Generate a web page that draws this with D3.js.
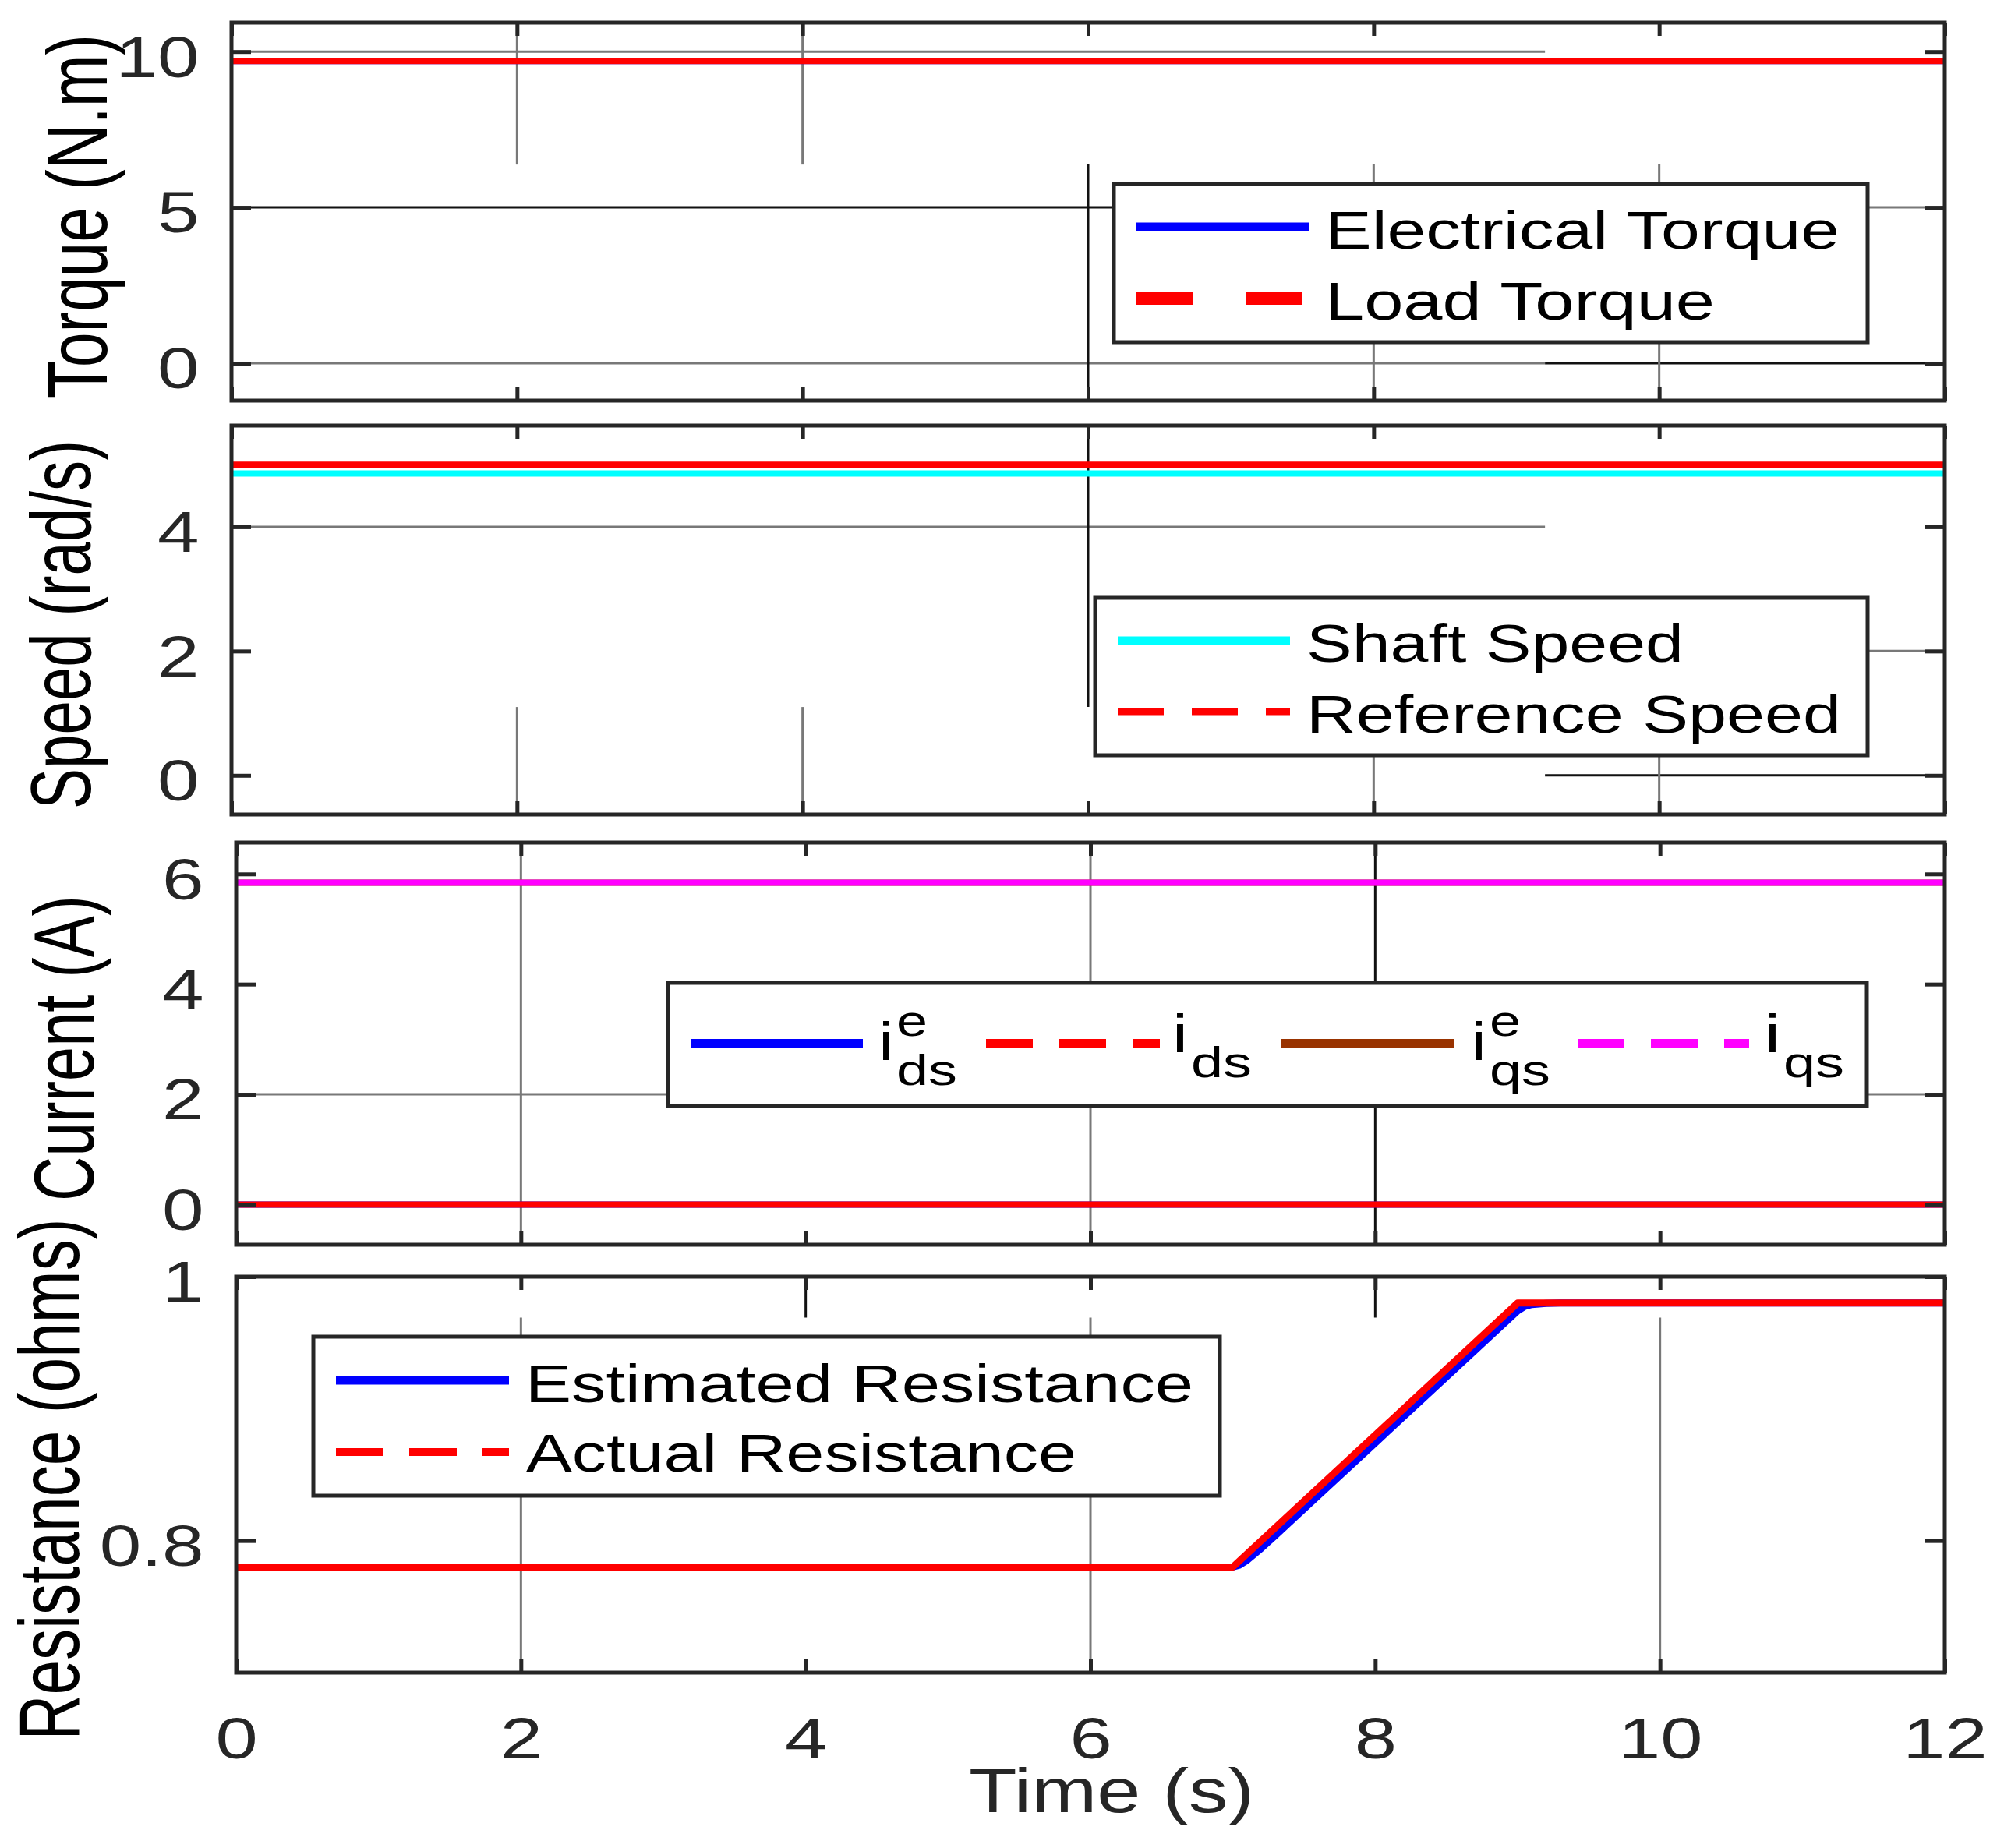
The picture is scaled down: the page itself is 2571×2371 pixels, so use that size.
<!DOCTYPE html>
<html>
<head>
<meta charset="utf-8">
<script src="https://cdn.jsdelivr.net/npm/d3@7"></script>
<style>
  body { margin: 0; background: #fff; }
</style>
</head>
<body>
<div class="canvas"></div>
<script>
const width = 2571;
const height = 2371;

// time axis (s)
const timeTicks = [0, 2, 4, 6, 8, 10, 12];
const timeSpan = [0, 12];

// torque (N.m)
const torqueTicks = [0, 5, 10];
const torqueDomain = [-1.2, 10.93];
const electricalTorque = [9.7, 9.7];
const loadTorque = [9.7, 9.7];

// speed (rad/s)
const speedTicks = [0, 2, 4];
const speedDomain = [-0.63, 5.63];
const shaftSpeed = [4.86, 4.86];
const referenceSpeed = [5, 5];

// currents (A)
const currentTicks = [0, 2, 4, 6];
const currentDomain = [-0.73, 6.57];
const idsE = [0, 0];
const ids = [0, 0];
const iqsE = [5.84, 5.84];
const iqs = [5.84, 5.84];

// stator resistance (ohms)
const resistanceTicks = [0.8, 1];
const resistanceDomain = [0.7, 1.0];
const actualTime = [0, 7, 9, 12];
const actualResistance = [0.78, 0.78, 0.98, 0.98];
const estimatedTime = [0, 7, 7.05, 7.1, 7.2, 7.3, 7.5, 8, 8.5, 9, 9.05, 9.1, 9.2, 9.3, 12];
const estimatedResistance = [0.78, 0.78, 0.7816, 0.7851, 0.7942, 0.804, 0.824, 0.874, 0.924, 0.974, 0.9774, 0.9789, 0.9798, 0.98, 0.98];

const font = '"Liberation Sans", Arial, Helvetica, sans-serif';
const axisColor = '#262626';
const gridTone = {g: '#787878', k: '#111111'};
const split = 9.2; // where the broken grid pieces change

// grid pieces: [dir, at, from, to, tone]
const panels = [
  {
    left: 297, right: 2495, top: 29, bottom: 514,
    yDomain: torqueDomain, yTicks: torqueTicks,
    label: 'Torque (N.m)', labelX: 137, labelLength: 467,
    lineWidth: 8,
    series: [
      {t: timeSpan, v: electricalTorque, color: '#0000ff'},
      {t: timeSpan, v: loadTorque, color: '#ff0000'}
    ],
    grid: [
      ['h', 10, 0, split, 'g'], ['h', 5, 0, split, 'k'], ['h', 5, split, 12, 'g'],
      ['h', 0, 0, split, 'g'], ['h', 0, split, 12, 'k'],
      ['v', 2, torqueDomain[1], 6.375, 'g'], ['v', 4, torqueDomain[1], 6.375, 'g'],
      ['v', 6, 6.375, torqueDomain[0], 'k'], ['v', 8, 6.375, torqueDomain[0], 'g'],
      ['v', 10, 6.375, torqueDomain[0], 'g']
    ]
  },
  {
    left: 297, right: 2495, top: 546, bottom: 1045,
    yDomain: speedDomain, yTicks: speedTicks,
    label: 'Speed (rad/s)', labelX: 116, labelLength: 473,
    lineWidth: 8,
    series: [
      {t: timeSpan, v: shaftSpeed, color: '#00ffff'},
      {t: timeSpan, v: referenceSpeed, color: '#ff0000'}
    ],
    grid: [
      ['h', 4, 0, split, 'g'], ['h', 2, split, 12, 'g'], ['h', 0, split, 12, 'k'],
      ['v', 2, 1.1, speedDomain[0], 'g'], ['v', 4, 1.1, speedDomain[0], 'g'],
      ['v', 6, speedDomain[1], 1.1, 'k'], ['v', 8, 1.1, speedDomain[0], 'g'],
      ['v', 10, 1.1, speedDomain[0], 'g']
    ]
  },
  {
    left: 303, right: 2495, top: 1081, bottom: 1597,
    yDomain: currentDomain, yTicks: currentTicks,
    label: 'Current (A)', labelX: 120, labelLength: 392,
    lineWidth: 8,
    series: [
      {t: timeSpan, v: idsE, color: '#0000ff'},
      {t: timeSpan, v: ids, color: '#ff0000'},
      {t: timeSpan, v: iqsE, color: '#993300'},
      {t: timeSpan, v: iqs, color: '#ff00ff'}
    ],
    grid: [
      ['h', 2, 0, 12, 'g'],
      ['v', 2, currentDomain[0], currentDomain[1], 'g'],
      ['v', 6, currentDomain[0], currentDomain[1], 'g'],
      ['v', 8, currentDomain[0], currentDomain[1], 'k']
    ]
  },
  {
    left: 303, right: 2495, top: 1638, bottom: 2146,
    yDomain: resistanceDomain, yTicks: resistanceTicks,
    label: 'Resistance (ohms)', labelX: 101, labelLength: 669,
    lineWidth: 9,
    series: [
      {t: estimatedTime, v: estimatedResistance, color: '#0000ff'},
      {t: actualTime, v: actualResistance, color: '#ff0000'}
    ],
    grid: [
      ['v', 2, resistanceDomain[0], 0.969, 'g'], ['v', 6, resistanceDomain[0], 0.969, 'g'],
      ['v', 10, resistanceDomain[0], 0.969, 'g'],
      ['v', 4, 0.969, resistanceDomain[1], 'k'], ['v', 8, 0.969, resistanceDomain[1], 'k']
    ],
    xLabels: true
  }
];

const svg = d3.select('.canvas').append('svg')
  .attr('width', width)
  .attr('height', height)
  .attr('font-family', font);

svg.append('rect').attr('width', width).attr('height', height).attr('fill', '#fff');

function styleAxis(g, size) {
  g.select('.domain').remove();
  g.attr('font-family', font).attr('font-size', size);
  g.selectAll('.tick line').attr('stroke', axisColor).attr('stroke-width', 5);
  g.selectAll('.tick text').attr('fill', axisColor);
}

panels.forEach((p, i) => {
  const x = d3.scaleLinear().domain(timeSpan).range([p.left, p.right]);
  const y = d3.scaleLinear().domain(p.yDomain).range([p.bottom, p.top]);
  const g = svg.append('g');

  g.append('clipPath').attr('id', 'clip' + i)
    .append('rect')
      .attr('x', p.left).attr('y', p.top)
      .attr('width', p.right - p.left).attr('height', p.bottom - p.top);

  // broken grid pieces
  g.append('g').selectAll('line')
    .data(p.grid)
    .join('line')
      .attr('x1', d => d[0] === 'h' ? x(d[2]) : x(d[1]))
      .attr('x2', d => d[0] === 'h' ? x(d[3]) : x(d[1]))
      .attr('y1', d => d[0] === 'h' ? y(d[1]) : y(d[2]))
      .attr('y2', d => d[0] === 'h' ? y(d[1]) : y(d[3]))
      .attr('stroke', d => gridTone[d[4]])
      .attr('stroke-width', 3);

  const line = d3.line().x(d => x(d[0])).y(d => y(d[1]));
  g.append('g').attr('clip-path', `url(#clip${i})`)
    .selectAll('path')
    .data(p.series)
    .join('path')
      .attr('d', s => line(d3.zip(s.t, s.v)))
      .attr('fill', 'none')
      .attr('stroke', s => s.color)
      .attr('stroke-width', p.lineWidth)
      .attr('stroke-linejoin', 'round');

  // box + inward ticks on all four sides
  g.append('g').attr('transform', `translate(${p.left},0)`)
    .call(d3.axisLeft(y).tickValues(p.yTicks).tickSize(-25).tickPadding(32).tickFormat(d3.format('~g')))
    .call(a => styleAxis(a, 74))
    .call(a => a.selectAll('.tick text').attr('dy', '0.43em').attr('transform', 'scale(1.3,1)'));

  g.append('g').attr('transform', `translate(${p.right},0)`)
    .call(d3.axisRight(y).tickValues(p.yTicks).tickSize(-25).tickFormat(''))
    .call(a => styleAxis(a, 74));

  g.append('g').attr('transform', `translate(0,${p.top})`)
    .call(d3.axisTop(x).tickValues(timeTicks).tickSize(-17).tickFormat(''))
    .call(a => styleAxis(a, 75));

  const xAxis = d3.axisBottom(x).tickValues(timeTicks).tickSize(-17).tickPadding(57);
  if (!p.xLabels) xAxis.tickFormat('');
  g.append('g').attr('transform', `translate(0,${p.bottom})`)
    .call(xAxis)
    .call(a => styleAxis(a, 75))
    .call(a => a.selectAll('.tick text').attr('transform', 'scale(1.3,1)'));

  g.append('rect')
    .attr('x', p.left).attr('y', p.top)
    .attr('width', p.right - p.left).attr('height', p.bottom - p.top)
    .attr('fill', 'none')
    .attr('stroke', axisColor)
    .attr('stroke-width', 5);

  g.append('text')
    .attr('transform', `translate(${p.labelX},${(p.top + p.bottom) / 2 + 6}) rotate(-90)`)
    .attr('text-anchor', 'middle')
    .attr('font-size', 110)
    .attr('fill', '#000')
    .attr('textLength', p.labelLength)
    .attr('lengthAdjust', 'spacingAndGlyphs')
    .text(p.label);
});

svg.append('text')
  .attr('x', 1426)
  .attr('y', 2325)
  .attr('text-anchor', 'middle')
  .attr('font-size', 79)
  .attr('fill', axisColor)
  .attr('textLength', 366)
  .attr('lengthAdjust', 'spacingAndGlyphs')
  .text('Time (s)');

// legends
const legends = [
  {box: [1429, 236, 2396, 439], items: [
    {x1: 1458, x2: 1680, y: 291, color: '#0000ff', w: 11, text: 'Electrical Torque', tx: 1700, ty: 319, tl: 660},
    {x1: 1458, x2: 1671, y: 383, color: '#ff0000', w: 16, dash: '72 69', text: 'Load Torque', tx: 1700, ty: 410, tl: 500}
  ]},
  {box: [1405, 767, 2396, 969], items: [
    {x1: 1434, x2: 1655, y: 822, color: '#00ffff', w: 11, text: 'Shaft Speed', tx: 1676, ty: 849, tl: 484},
    {x1: 1434, x2: 1655, y: 913, color: '#ff0000', w: 9, dash: '59 36', text: 'Reference Speed', tx: 1676, ty: 940, tl: 686}
  ]},
  {box: [857, 1261, 2395, 1419], items: [
    {x1: 887, x2: 1107, y: 1338.5, color: '#0000ff', w: 11,
      tex: {x: 1127, y: 1360, sup: 'e', supY: 1329, sub: 'ds', subY: 1392, sx: 1150}},
    {x1: 1265, x2: 1488, y: 1338.5, color: '#ff0000', w: 11, dash: '60 34',
      tex: {x: 1504, y: 1350, sub: 'ds', subY: 1382, sx: 1528}},
    {x1: 1644, x2: 1866, y: 1338.5, color: '#993300', w: 11,
      tex: {x: 1887, y: 1360, sup: 'e', supY: 1329, sub: 'qs', subY: 1392, sx: 1911}},
    {x1: 2024, x2: 2244, y: 1338.5, color: '#ff00ff', w: 11, dash: '60 34',
      tex: {x: 2264, y: 1350, sub: 'qs', subY: 1382, sx: 2288}}
  ]},
  {box: [402, 1715, 1565, 1919], items: [
    {x1: 431, x2: 653, y: 1771, color: '#0000ff', w: 11, text: 'Estimated Resistance', tx: 674, ty: 1799, tl: 857},
    {x1: 431, x2: 653, y: 1863, color: '#ff0000', w: 10, dash: '61 33', text: 'Actual Resistance', tx: 675, ty: 1888, tl: 706}
  ]}
];

legends.forEach(L => {
  const g = svg.append('g');
  const [x0, y0, x1, y1] = L.box;
  g.append('rect')
    .attr('x', x0).attr('y', y0)
    .attr('width', x1 - x0).attr('height', y1 - y0)
    .attr('fill', '#fff')
    .attr('stroke', axisColor)
    .attr('stroke-width', 5);

  L.items.forEach(it => {
    g.append('line')
      .attr('x1', it.x1).attr('x2', it.x2)
      .attr('y1', it.y).attr('y2', it.y)
      .attr('stroke', it.color)
      .attr('stroke-width', it.w)
      .attr('stroke-dasharray', it.dash || null);

    if (it.text) {
      g.append('text')
        .attr('x', it.tx).attr('y', it.ty)
        .attr('font-size', 68)
        .attr('fill', '#000')
        .attr('textLength', it.tl)
        .attr('lengthAdjust', 'spacingAndGlyphs')
        .text(it.text);
    }
    if (it.tex) {
      const t = it.tex;
      g.append('text')
        .attr('x', t.x).attr('y', t.y)
        .attr('font-size', 68).attr('fill', '#000')
        .attr('textLength', 20).attr('lengthAdjust', 'spacingAndGlyphs')
        .text('i');
      if (t.sup) {
        g.append('text')
          .attr('x', t.sx).attr('y', t.supY)
          .attr('font-size', 56).attr('fill', '#000')
          .attr('textLength', 40).attr('lengthAdjust', 'spacingAndGlyphs')
          .text(t.sup);
      }
      g.append('text')
        .attr('x', t.sx).attr('y', t.subY)
        .attr('font-size', 56).attr('fill', '#000')
        .attr('textLength', 78).attr('lengthAdjust', 'spacingAndGlyphs')
        .text(t.sub);
    }
  });
});
</script>
</body>
</html>
